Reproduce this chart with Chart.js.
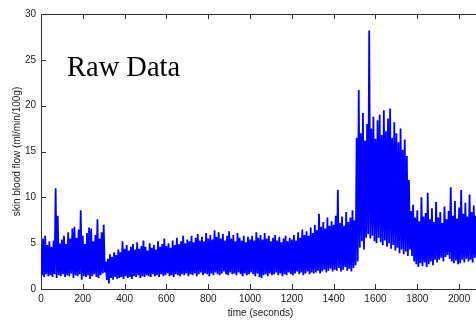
<!DOCTYPE html>
<html><head><meta charset="utf-8">
<script src="https://cdn.jsdelivr.net/npm/chart.js@4/dist/chart.umd.min.js"></script>
<style>
html,body{margin:0;padding:0;background:#fff;overflow:hidden;}
#wrap{width:484px;height:326px;position:relative;}
canvas{display:block;}
</style></head><body>
<div id="wrap"><canvas id="c" width="484" height="326"></canvas></div>
<script>
// seconds between read-off samples (peak at t, trough at t + half step)
const sampleStep = 10;

// upper tips of the raw signal, every 10 s from t = 0 s
const peakValues = [
  4.5, 5.5, 5.8, 4.8, 5.2, 4.6, 5.3, 11.0, 8.0, 5.0,
  5.4, 5.8, 4.9, 6.2, 5.5, 6.6, 6.8, 5.6, 6.5, 8.6,
  5.8, 4.9, 6.1, 6.7, 6.6, 5.2, 5.9, 7.6, 5.5, 6.2,
  7.0, 3.0, 3.3, 3.8, 3.5, 4.0, 3.7, 4.3, 4.0, 5.2,
  4.4, 4.8, 4.2, 4.6, 4.9, 4.3, 5.1, 4.4, 4.7, 5.3,
  4.6, 4.2, 5.0, 4.5, 4.8, 4.3, 5.2, 4.6, 4.9, 5.5,
  4.7, 5.0, 4.5, 5.3, 4.8, 5.6, 4.9, 5.2, 5.8, 5.0,
  5.4, 5.2, 5.8, 5.1, 5.6, 6.0, 5.3, 5.7, 5.2, 6.1,
  5.5, 5.9, 5.4, 6.4, 5.7, 6.2, 5.5, 6.0, 5.3, 5.8,
  6.3, 5.5, 5.9, 5.2, 6.1, 5.6, 5.3, 5.8, 5.1, 5.7,
  5.4, 5.8, 5.3, 6.2, 5.6, 5.9, 5.4, 6.1, 5.5, 5.8,
  5.2, 5.6, 5.9, 5.3, 5.7, 5.1, 5.5, 5.8, 5.2, 5.6,
  5.4, 5.9, 5.3, 6.2, 5.6, 6.5, 5.9, 6.3, 5.8, 6.7,
  6.1, 7.0, 6.4, 8.2, 6.8, 7.3, 6.6, 7.8, 6.9, 7.4,
  7.0, 8.0, 10.8, 7.2, 7.9, 6.9, 8.4, 7.3, 7.8, 8.6,
  7.5, 16.5, 21.7, 17.0, 19.2, 16.2, 18.0, 28.2, 17.5, 18.8,
  16.4, 18.4, 19.0, 16.8, 19.5, 17.2, 18.6, 19.7, 16.5, 18.2,
  17.0, 16.0, 17.5, 15.2, 16.3, 14.5, 11.9, 8.5, 9.2, 7.8,
  8.6, 7.4, 10.0, 7.9, 8.3, 10.5, 7.6, 8.8, 7.3, 9.5,
  7.8, 8.4, 7.2, 9.0, 7.6, 8.5, 11.1, 8.0, 9.6, 7.7,
  8.9, 10.8, 8.2, 9.4, 7.9, 10.3, 8.4, 9.1, 8.0, 9.5
];

// lower tips of the raw signal, every 10 s from t = 5 s
const troughValues = [
  1.5, 1.3, 1.6, 1.4, 1.5, 1.3, 1.6, 1.2, 1.5, 1.4,
  1.6, 1.3, 1.5, 1.4, 1.7, 1.2, 1.5, 1.4, 1.6, 1.0,
  1.4, 1.3, 1.5, 1.1, 1.4, 1.6, 1.3, 1.2, 1.5, 1.7,
  1.8, 1.0, 0.6, 1.2, 1.0, 1.3, 1.1, 1.2, 1.3, 1.1,
  1.4, 1.2, 1.3, 1.1, 1.4, 1.3, 1.5, 1.2, 1.4, 1.3,
  1.5, 1.4, 1.3, 1.6, 1.4, 1.5, 1.3, 1.6, 1.4, 1.5,
  1.7, 1.4, 1.5, 1.3, 1.6, 1.5, 1.4, 1.6, 1.5, 1.7,
  1.4, 1.6, 1.5, 1.7, 1.4, 1.6, 1.8, 1.5, 1.7, 1.6,
  1.4, 1.7, 1.5, 1.8, 1.6, 1.5, 1.7, 1.9, 1.6, 1.5,
  1.8, 1.6, 1.7, 1.5, 1.8, 1.6, 1.4, 1.7, 1.5, 1.6,
  1.8, 1.6, 1.4, 1.7, 1.3, 1.2, 1.5, 1.6, 1.4, 1.7,
  1.5, 1.6, 1.8, 1.5, 1.7, 1.4, 1.6, 1.5, 1.8, 1.6,
  1.5, 1.7, 1.9, 1.6, 1.8, 1.5, 1.7, 1.9, 1.6, 1.8,
  1.7, 1.8, 2.0, 1.7, 1.9, 2.1, 1.8, 2.0, 2.2, 1.9,
  2.1, 2.0, 2.3, 1.9, 2.1, 2.4, 2.0, 2.2, 1.9, 2.3,
  2.6, 3.0, 4.5, 5.2, 4.3, 5.6, 6.0, 5.5, 5.8, 5.2,
  5.0, 5.6, 5.1, 4.8, 5.3, 4.6, 5.0, 4.4, 4.8, 4.2,
  4.5, 3.9, 4.3, 3.8, 4.1, 3.6, 4.3, 3.6, 3.0, 2.7,
  2.4, 2.8, 2.5, 2.9, 2.4, 2.7, 3.0, 2.6, 3.2, 2.9,
  3.2, 3.4, 3.0, 3.5, 3.7, 3.3, 3.0, 2.8, 3.1, 2.7,
  2.8, 3.2, 2.9, 3.3, 3.0, 3.2, 2.9, 3.4, 3.1, 3.3
];

const xMin = 0, xMax = 2100, xStep = 200;
const yMin = 0, yMax = 30, yStep = 5;
const xTitle = 'time (seconds)';
const yTitle = 'skin blood flow (ml/min/100g)';
const annotationText = 'Raw Data';

// interleave the read peaks and troughs into one raw trace
const trace = [];
peakValues.forEach((v, i) => {
  const t = i * sampleStep;
  trace.push({x: t, y: v});
  trace.push({x: t + sampleStep / 2, y: troughValues[i]});
});

const axisColor = '#333333';
const tickFont = {family: '"Liberation Sans", Arial, sans-serif', size: 10};

const framePlugin = {
  id: 'matlabFrame',
  beforeDatasetsDraw(chart) {
    const {ctx, chartArea: a, scales: {x, y}} = chart;
    ctx.save();
    ctx.strokeStyle = axisColor;
    ctx.lineWidth = 1;
    ctx.beginPath();
    ctx.moveTo(a.left, a.top + 0.5);
    ctx.lineTo(a.right, a.top + 0.5);
    x.ticks.forEach(t => {
      const px = Math.round(x.getPixelForValue(t.value)) + 0.5;
      ctx.moveTo(px, a.bottom); ctx.lineTo(px, a.bottom - 5);
      ctx.moveTo(px, a.top); ctx.lineTo(px, a.top + 5);
    });
    y.ticks.forEach(t => {
      const py = Math.round(y.getPixelForValue(t.value)) + 0.5;
      ctx.moveTo(a.left, py); ctx.lineTo(a.left + 5, py);
    });
    ctx.stroke();
    ctx.restore();
  },
  afterDraw(chart) {
    const {ctx, chartArea: a} = chart;
    ctx.save();
    ctx.fillStyle = '#000';
    ctx.font = '28.5px "Liberation Serif", "Times New Roman", serif';
    ctx.textBaseline = 'alphabetic';
    ctx.textAlign = 'left';
    ctx.fillText(annotationText, a.left + 26, a.top + 62);
    ctx.restore();
  }
};

new Chart(document.getElementById('c'), {
  type: 'line',
  data: {
    datasets: [{
      data: trace,
      borderColor: '#0000ff',
      borderWidth: 1.8,
      pointRadius: 0,
      tension: 0,
      fill: false
    }]
  },
  options: {
    responsive: false,
    animation: false,
    devicePixelRatio: 1,
    layout: {padding: {top: 14, right: 4, bottom: 0, left: 0}},
    plugins: {legend: {display: false}, tooltip: {enabled: false}},
    scales: {
      x: {
        type: 'linear', min: xMin, max: xMax,
        grid: {drawOnChartArea: false, drawTicks: false},
        border: {display: true, color: axisColor},
        ticks: {stepSize: xStep, includeBounds: false, padding: 4, font: tickFont, color: '#222', maxRotation: 0, autoSkip: false, callback: v => String(v)},
        title: {display: true, text: xTitle, font: tickFont, color: '#222', padding: {top: 0, bottom: 7}},
        afterFit(s) { s.height = 37; }
      },
      y: {
        type: 'linear', min: yMin, max: yMax,
        grid: {drawOnChartArea: false, drawTicks: false},
        border: {display: true, color: axisColor},
        ticks: {stepSize: yStep, padding: 5, font: tickFont, color: '#222', callback: v => String(v)},
        title: {display: true, text: yTitle, font: tickFont, color: '#222', padding: {top: 11, bottom: 0}},
        afterFit(s) { s.width = 41; }
      }
    }
  },
  plugins: [framePlugin]
});
</script>
</body></html>
